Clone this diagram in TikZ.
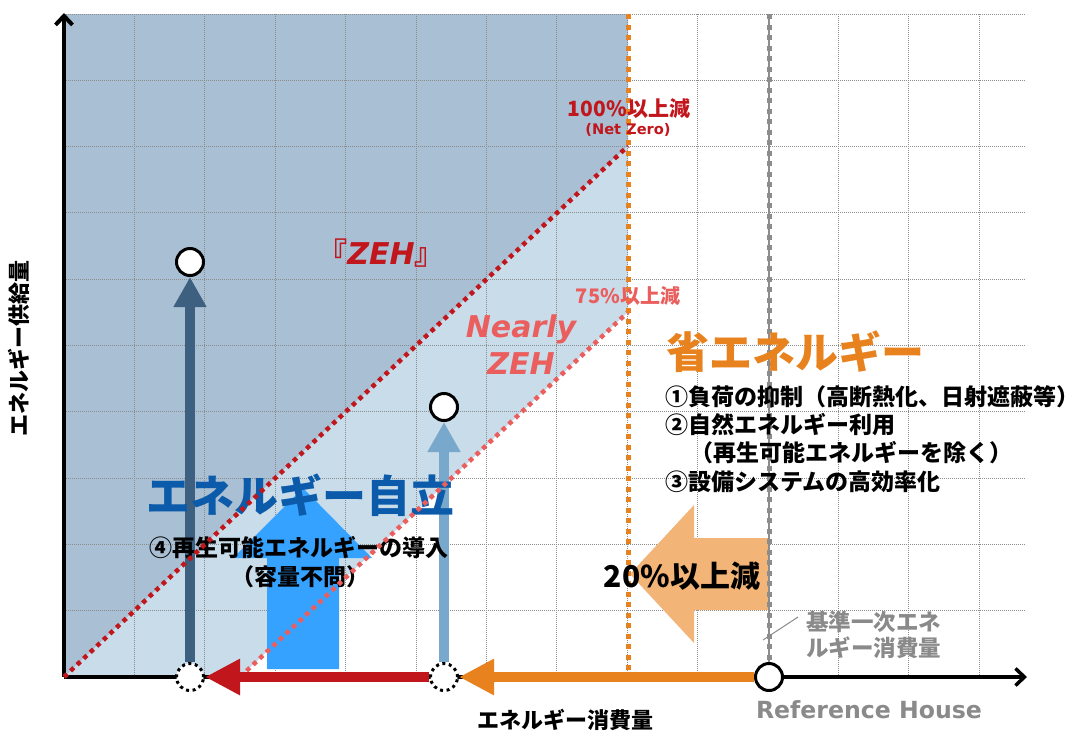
\documentclass[tikz,border=0pt]{standalone}
\usepackage{fontspec}
\setmainfont{Noto Sans CJK JP}
\newfontfamily\djv{DejaVu Sans}
\usetikzlibrary{arrows.meta}
\definecolor{darkfill}{HTML}{A9BFD3}
\definecolor{lightfill}{HTML}{C9DCEA}
\definecolor{gridgray}{HTML}{8C8C8C}
\definecolor{zred}{HTML}{C0161C}
\definecolor{zpink}{HTML}{EA5E5E}
\definecolor{zorange}{HTML}{E8821E}
\definecolor{lorange}{HTML}{F2B477}
\definecolor{bblue}{HTML}{36A2FF}
\definecolor{tblue}{HTML}{0B5BAA}
\definecolor{slate}{HTML}{3E6080}
\definecolor{steel}{HTML}{78A9CC}
\definecolor{tgray}{HTML}{8A8A8A}
\newcommand\fsz[2]{\fontsize{#1}{#2}\selectfont}
\begin{document}
\begin{tikzpicture}[x=1pt,y=-1pt,
  gridline/.style={gridgray, line width=0.9pt, dash pattern=on 1pt off 1pt},
  reddot/.style={zred, line width=4.5pt, dash pattern=on 4.5pt off 4.5pt},
  pinkdot/.style={zpink, line width=4.5pt, dash pattern=on 4.5pt off 4.5pt},
  orangedot/.style={zorange, line width=5pt, dash pattern=on 5pt off 5.5pt},
  graydot/.style={gridgray, line width=5pt, dash pattern=on 5pt off 5.5pt},
  solidc/.style={circle, draw=black, line width=3pt, fill=white, minimum size=27pt, inner sep=0pt},
  dotc/.style={circle, draw=black, line width=3pt, fill=white, minimum size=27pt, inner sep=0pt, dash pattern=on 3pt off 3.6pt},
  harrow/.style={line width=10.5pt, -{Triangle[length=35pt,width=34pt]}},
  varrow/.style={line width=10.5pt, -{Triangle[length=30pt,width=31pt]}},
  axis/.style={black, line width=4pt, -{Straight Barb[length=9pt,width=17pt]}},
  lbl/.style={inner sep=0pt},
]
\useasboundingbox (0,0) rectangle (1081,750);
% key coordinates
\coordinate (O) at (64,677);
\coordinate (ytop) at (64,13);
\coordinate (xend) at (1027,677);
\coordinate (r100) at (628,146);
\coordinate (p75a) at (240,677);
\coordinate (p75b) at (628,312);
\coordinate (otop) at (628,14);
\coordinate (obot) at (628,677);
\coordinate (gtop) at (769,14);
% fills
\fill[darkfill] (64,14) -- (otop) -- (r100) -- (O) -- cycle;
\fill[lightfill] (O) -- (r100) -- (p75b) -- (p75a) -- cycle;
% grid
\foreach \i in {1,...,13} \draw[gridline] ({64+70.4*\i},14) -- ({64+70.4*\i},677);
\foreach \j in {0,...,9} \draw[gridline] (64,{14+66.3*\j}) -- (1026,{14+66.3*\j});
% big block arrows
\fill[bblue] (267,669) -- (267,558) -- (233,558) -- (303,488) -- (372,558) -- (339,558) -- (339,669) -- cycle;
\fill[lorange] (769,538) -- (694,538) -- (694,505) -- (630,574) -- (694,643) -- (694,610) -- (769,610) -- cycle;
% axes
\draw[axis] (O) -- (ytop);
\draw[black, line width=3.5pt, -{Straight Barb[length=9pt,width=17pt]}] (O) -- (xend);
% circles
\node[solidc] (ref) at (769,677) {};
\node[dotc] (c1) at (444,677) {};
\node[dotc] (c2) at (190,677) {};
\node[solidc] (t1) at (190,262) {};
\node[solidc] (t2) at (444,407) {};
% vertical arrows
\draw[varrow, slate] (c2) -- (t1);
\draw[varrow, steel] (c1) -- (t2);
% texts under the diagonal lines
\node[lbl, font=\bfseries\fsz{44}{44}, text=tblue] (jiritsu) at (300,495) {エネルギー自立};
\node[lbl, font=\bfseries\fsz{23}{23}] (saisei) at (299,548) {④再生可能エネルギーの導入};
\node[lbl, font=\bfseries\fsz{23}{23}] (youryou) at (300,577) {（容量不問）};
% diagonal dotted lines
\draw[reddot] (O) -- (r100);
\draw[pinkdot] (p75a) -- (p75b);
% vertical dotted lines
\draw[orangedot] (otop) -- (obot);
\draw[gridgray, line width=1.2pt] (gtop) -- (ref.north);
\draw[graydot] (gtop) -- (ref.north);
% horizontal arrows
\draw[harrow, zorange] (ref) -- (c1);
\draw[harrow, zred, line width=10pt] (c1) -- (c2);
% leader line
\coordinate (lead1) at (763,640);
\coordinate (lead2) at (798,617);
\draw[tgray, line width=1pt] (lead1) -- (lead2);
% labels
\node[lbl, font=\bfseries\fsz{22}{22}, rotate=90] (ylab) at (19,348) {エネルギー供給量};
\node[lbl, font=\bfseries\fsz{22}{22}] (xlab) at (565,720) {エネルギー消費量};
\node[lbl, font=\djv\bfseries\fsz{23.6}{28}, text=tgray] (refh) at (869,710) {Reference House};
\node[lbl, font=\bfseries\fsz{22.5}{26}, text=tgray, align=left, anchor=west] (kijun) at (806,635) {基準一次エネ\\ルギー消費量};
\node[lbl, font=\bfseries\fsz{30}{30}] (gen20) at (682,576) {20\%以上減};
\node[lbl, font=\bfseries\fsz{43}{43}, text=zorange, anchor=west] (shoene) at (666,352) {省エネルギー};
\node[lbl, font=\bfseries\fsz{23}{23}, anchor=west] (l1) at (665,397) {①負荷の抑制（高断熱化、日射遮蔽等）};
\node[lbl, font=\bfseries\fsz{23}{23}, anchor=west] (l2) at (665,425) {②自然エネルギー利用};
\node[lbl, font=\bfseries\fsz{23}{23}, anchor=west] (l3) at (690,453) {（再生可能エネルギーを除く）};
\node[lbl, font=\bfseries\fsz{23}{23}, anchor=west] (l4) at (665,482) {③設備システムの高効率化};
\node[lbl, font=\bfseries\fsz{30}{30}, text=zred] (zeh) at (381,253) {『{\djv\bfseries\itshape ZEH}』};
\node[lbl, font=\djv\bfseries\itshape\fsz{30}{37}, text=zpink, align=center] (nearly) at (521,345) {Nearly\\ZEH};
\node[lbl, font=\bfseries\fsz{21}{21}, text=zred] (p100) at (629,109) {100\%以上減};
\node[lbl, font=\djv\bfseries\fsz{14.6}{15}, text=zred] (netzero) at (628,130) {(Net Zero)};
\node[lbl, font=\bfseries\fsz{20}{20}, text=zpink] (p75) at (628,296) {75\%以上減};
\end{tikzpicture}
\end{document}
